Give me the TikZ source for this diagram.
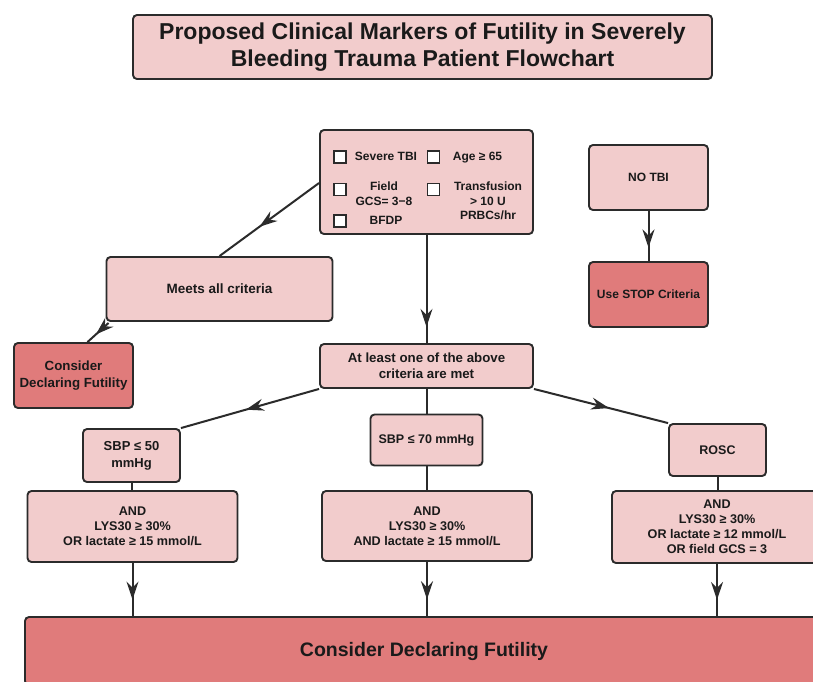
\documentclass[tikz,border=0pt]{standalone}
\usepackage{fontspec}
\setmainfont{Liberation Sans}
\usetikzlibrary{arrows.meta,decorations.markings}
\definecolor{lightpink}{HTML}{F2CCCC}
\definecolor{darkpink}{HTML}{E07B7B}
\definecolor{edgecol}{HTML}{2B2B2B}
\definecolor{txt}{HTML}{1A1A1A}
\newcommand\fsz[2]{\fontsize{#1}{#2}\selectfont}
\begin{document}
\begin{tikzpicture}[x=1pt,y=-1pt,
  box/.style={draw=edgecol, line width=1.9pt, rounded corners=4pt, fill=lightpink,
    align=center, text=txt, inner sep=0pt, font=\bfseries\fsz{13.5}{16}},
  darkbox/.style={box, fill=darkpink},
  chk/.style={draw=edgecol, line width=1.5pt, fill=white, minimum size=12pt, inner sep=0pt},
  ctext/.style={text=txt, align=center, inner sep=0pt, font=\bfseries\fsz{12}{14.5}},
  ctextone/.style={ctext, text height=8.7pt, text depth=2.5pt},
  conn/.style={draw=edgecol, line width=2pt},
  midarrow/.style={conn, postaction={decorate}, decoration={markings,
    mark=at position #1 with {\arrow{Stealth[length=18pt,width=12pt,inset=6pt]}}}}
]
\useasboundingbox (0,0) rectangle (813,681);
\clip (0,0) rectangle (813,681);
\fill[white] (0,0) rectangle (813,681);

% title
\node[box, minimum width=579pt, minimum height=64pt, font=\bfseries\fsz{23}{27}] (title) at (422.5,47)
  {Proposed Clinical Markers of Futility in Severely\\Bleeding Trauma Patient Flowchart};

% criteria box
\node[box, minimum width=213pt, minimum height=104pt] (crit) at (426.5,182) {};
\node[chk] (c1) at (340,157) {};
\node[chk] (c2) at (433.5,157) {};
\node[chk] (c3) at (340,189.5) {};
\node[chk] (c4) at (433.5,189.5) {};
\node[chk] (c5) at (340,221) {};
\node[ctextone] (t1) at (386,157) {Severe TBI};
\node[ctextone] (t2) at (477.5,157) {Age ≥ 65};
\node[ctext, anchor=north] (t3) at (384,182) {Field\\GCS= 3−8};
\node[ctextone] (t5) at (386,221) {BFDP};
\node[ctext, anchor=north] (t4) at (488,182) {Transfusion\\> 10 U\\PRBCs/hr};

% NO TBI branch
\node[box, minimum width=119pt, minimum height=65pt, font=\bfseries\fsz{12}{14}] (notbi) at (648.5,177.5) {NO TBI};
\node[darkbox, minimum width=119pt, minimum height=65pt, font=\bfseries\fsz{12}{14}] (stop) at (648.5,294.5) {Use STOP Criteria};

% meets all
\node[box, minimum width=226pt, minimum height=64pt] (meets) at (219.5,289) {Meets all criteria};
\node[darkbox, minimum width=119pt, minimum height=65pt, font=\bfseries\fsz{13.3}{17}] (consl) at (73.5,375.5) {Consider\\Declaring Futility};

% at least one
\node[box, minimum width=213pt, minimum height=44pt, font=\bfseries\fsz{13.3}{16}] (atleast) at (426.5,366) {At least one of the above\\criteria are met};

\node[box, minimum width=97pt, minimum height=53pt, font=\bfseries\fsz{13}{17}] (sbp50) at (131.5,455.5) {SBP ≤ 50\\mmHg};
\node[box, minimum width=112pt, minimum height=51pt, font=\bfseries\fsz{12.5}{15}] (sbp70) at (426.5,440) {SBP ≤ 70 mmHg};
\node[box, minimum width=97pt, minimum height=52pt, font=\bfseries\fsz{12.5}{15}] (rosc) at (717.5,450) {ROSC};

\node[box, minimum width=210pt, minimum height=71pt, font=\bfseries\fsz{12.6}{15}] (and1) at (132.5,526.5)
  {AND\\LYS30 ≥ 30\%\\OR lactate ≥ 15 mmol/L};
\node[box, minimum width=210pt, minimum height=70pt, font=\bfseries\fsz{12.6}{15}] (and2) at (427,526)
  {AND\\LYS30 ≥ 30\%\\AND lactate ≥ 15 mmol/L};
\node[box, minimum width=210pt, minimum height=72pt, font=\bfseries\fsz{12.6}{15}] (and3) at (717,527)
  {AND\\LYS30 ≥ 30\%\\OR lactate ≥ 12 mmol/L\\OR field GCS = 3};

\node[darkbox, minimum width=798pt, minimum height=68pt, font=\bfseries\fsz{19.5}{22}] (final) at (424,651)
  {Consider Declaring Futility};

% connectors
\coordinate (critL) at ([yshift=-1pt]crit.west);
\draw[midarrow=0.6] (critL) -- (meets.north);
\coordinate (meetsBL) at ([xshift=3pt,yshift=-1pt]meets.south west);
\coordinate (conslT) at ([xshift=14pt]consl.north);
\draw[midarrow=0.6] (meetsBL) -- (conslT);
\draw[midarrow=0.85] (crit.south) -- (atleast.north);
\draw[midarrow=0.73] (notbi.south) -- (stop.north);
\draw[midarrow=0.53] (atleast.south west) -- (sbp50.north east);
\draw[midarrow=0.56] (atleast.south east) -- (rosc.north west);
\draw[conn] (atleast.south) -- (sbp70.north);
\draw[conn] (sbp50.south) -- (sbp50.south |- and1.north);
\draw[conn] (sbp70.south) -- (sbp70.south |- and2.north);
\draw[conn] (rosc.south) -- (rosc.south |- and3.north);
\coordinate (a1) at (and1.south);
\coordinate (a2) at (and2.south);
\coordinate (a3) at (and3.south);
\draw[midarrow=0.69] (a1) -- (a1 |- final.north);
\draw[midarrow=0.69] (a2) -- (a2 |- final.north);
\draw[midarrow=0.69] (a3) -- (a3 |- final.north);
\end{tikzpicture}
\end{document}
